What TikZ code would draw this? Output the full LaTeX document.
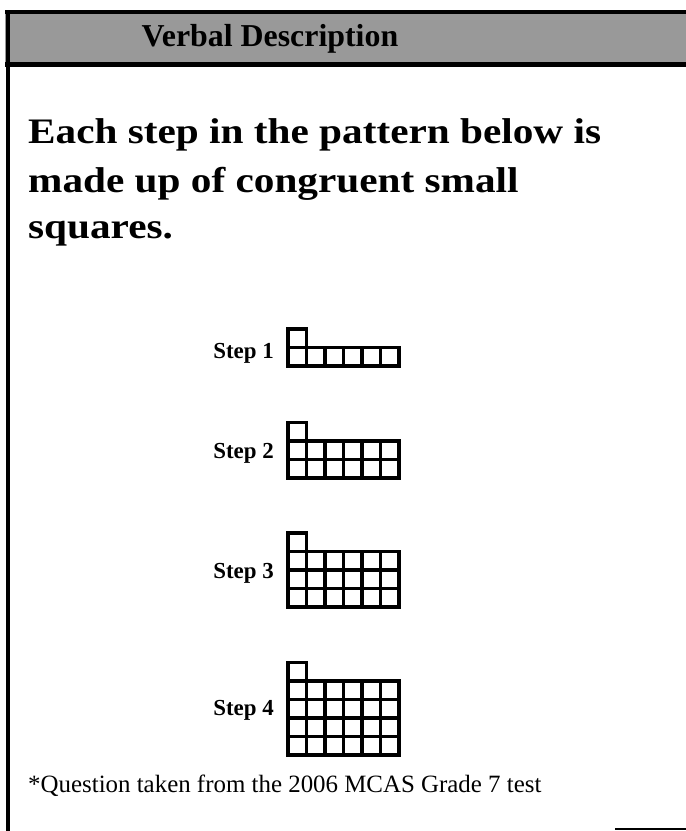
\documentclass[tikz,border=0pt]{standalone}
\usepackage{fontspec}
\setmainfont{Liberation Serif}
\usepackage{xcolor}
\usetikzlibrary{positioning}

\tikzset{
  frame/.style={line width=4.5bp},
  cell/.style={line width=3.4bp, line join=miter},
  steplabel/.style={inner sep=0pt, anchor=base east, font=\fontsize{23}{25}\selectfont\bfseries},
  bodyline/.style={inner sep=0pt, anchor=base west, font=\fontsize{36}{40}\selectfont\bfseries},
}

\begin{document}
\begin{tikzpicture}[x=1bp, y=-1bp]
    \useasboundingbox (0,0) rectangle (686,831);
    % header band
    \fill[black!40] (5,12) rectangle (686,64);
    \draw[frame] (5,12) -- (686,12);
    \draw[frame] (5,64.5) -- (686,64.5);
    \node[inner sep=0pt, anchor=base, font=\fontsize{32}{34}\selectfont\bfseries] (title) at (270,46) {Verbal Description};
    % box edges
    \draw[frame] (8,10) -- (8,831);
    \draw[line width=2bp] (615,829) -- (686,829);
    % question text
    \node[bodyline] (line1) at (28,143) {\scalebox{1.15}[1]{Each step in the pattern below is}};
    \node[bodyline] (line2) at (28,192) {\scalebox{1.15}[1]{made up of congruent small}};
    \node[bodyline] (line3) at (28,238) {\scalebox{1.15}[1]{squares.}};
    % the four steps
    \def\s{18.5}
    \foreach \n/\bot/\lab in {1/366/358, 2/478/458, 3/607/578, 4/755/715} {
        \node[steplabel] (step\n) at (274,\lab) {Step \n};
        \foreach \c in {0,...,5}
            \foreach \r in {1,...,\n}
                \draw[cell] (288+\c*\s,\bot-\r*\s) rectangle +(\s,\s);
        \draw[cell] (288,\bot-\n*\s-\s) rectangle +(\s,\s);
    }
    % source
    \node[inner sep=0pt, anchor=base west, font=\fontsize{25}{27}\selectfont] (source) at (28,792) {*Question taken from the 2006 MCAS Grade 7 test};
\end{tikzpicture}
\end{document}
